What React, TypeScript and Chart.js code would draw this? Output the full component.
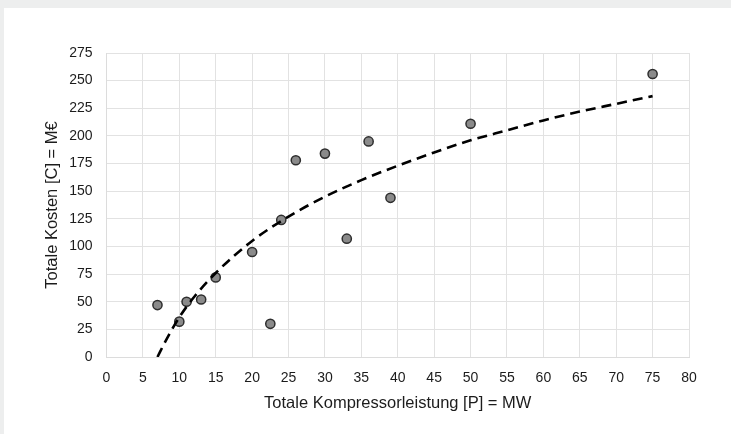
import React, { useEffect, useRef } from "react";
import { Chart, registerables } from "chart.js";

Chart.register(...registerables);

// Observed data points (Totale Kompressorleistung MW, Totale Kosten M€)
const pointX = [7, 10, 11, 13, 15, 20, 22.5, 24, 26, 30, 33, 36, 39, 50, 75];
const pointY = [47, 32, 50, 52, 72, 95, 30, 124, 178, 184, 107, 195, 144, 211, 256];

// Dashed trend line
const trendX = [7, 8, 9, 10, 12, 15, 20, 25, 30, 35, 40, 45, 50, 55, 60, 65, 70, 75];
const trendY = [0, 13, 25, 36, 54, 76, 105, 127, 145, 160, 173, 185, 196, 205, 214, 222, 229, 236];

const xTicks = [0, 5, 10, 15, 20, 25, 30, 35, 40, 45, 50, 55, 60, 65, 70, 75, 80];
const yTicks = [0, 25, 50, 75, 100, 125, 150, 175, 200, 225, 250, 275];

const xTitle = "Totale Kompressorleistung [P] = MW";
const yTitle = "Totale Kosten [C] = M€";

const FONT = "'Liberation Sans', Arial, Helvetica, sans-serif";
const TEXT = "#1c1c1c";

export default function App() {
  const ref = useRef<HTMLCanvasElement | null>(null);

  useEffect(() => {
    if (!ref.current) return;
    const chart = new Chart(ref.current, {
      type: "scatter",
      data: {
        datasets: [
          {
            type: "line",
            label: "Trend",
            data: trendX.map((x, i) => ({ x, y: trendY[i] })),
            borderColor: "#000000",
            borderWidth: 2.6,
            borderDash: [10, 6],
            pointRadius: 0,
            fill: false,
            cubicInterpolationMode: "monotone",
            order: 0,
          } as any,
          {
            type: "scatter",
            label: "Daten",
            data: pointX.map((x, i) => ({ x, y: pointY[i] })),
            backgroundColor: "#8a8a8a",
            borderColor: "#2e2e2e",
            borderWidth: 1.5,
            pointRadius: 4.6,
            order: 1,
          },
        ],
      },
      options: {
        animation: false,
        responsive: false,
        maintainAspectRatio: false,
        layout: { padding: { left: 0, top: 45, right: 42, bottom: 17 } },
        plugins: { legend: { display: false }, tooltip: { enabled: false } },
        scales: {
          x: {
            type: "linear",
            min: 0,
            max: 80,
            afterBuildTicks: (s: any) => {
              s.ticks = xTicks.map((v) => ({ value: v }));
            },
            afterFit: (s: any) => {
              s.height = 60;
            },
            ticks: {
              padding: 13,
              color: TEXT,
              font: { family: FONT, size: 14 },
              maxRotation: 0,
            },
            grid: { color: "#e2e2e2", lineWidth: 1, drawTicks: false },
            border: { color: "#dcdcdc" },
            title: {
              display: true,
              text: xTitle,
              color: TEXT,
              font: { family: FONT, size: 16.5 },
              padding: { top: 0, bottom: 4 },
            },
          },
          y: {
            type: "linear",
            min: 0,
            max: 275,
            afterBuildTicks: (s: any) => {
              s.ticks = yTicks.map((v) => ({ value: v }));
            },
            afterFit: (s: any) => {
              s.width = 102.5;
            },
            ticks: {
              padding: 14,
              color: TEXT,
              font: { family: FONT, size: 14 },
            },
            grid: { color: "#e2e2e2", lineWidth: 1, drawTicks: false },
            border: { color: "#dcdcdc" },
            title: {
              display: true,
              text: yTitle,
              color: TEXT,
              font: { family: FONT, size: 16.5 },
              padding: { top: 38.5, bottom: 0 },
            },
          },
        },
      },
    });
    return () => chart.destroy();
  }, []);

  return (
    <div
      style={{
        position: "fixed",
        left: 0,
        top: 0,
        width: 731,
        height: 434,
        background: "#edeeee",
        overflow: "hidden",
      }}
    >
      <div
        style={{
          position: "absolute",
          left: 4,
          top: 8,
          width: 727,
          height: 426,
          background: "#ffffff",
        }}
      >
        <canvas ref={ref} width={727} height={426} style={{ display: "block" }} />
      </div>
    </div>
  );
}
